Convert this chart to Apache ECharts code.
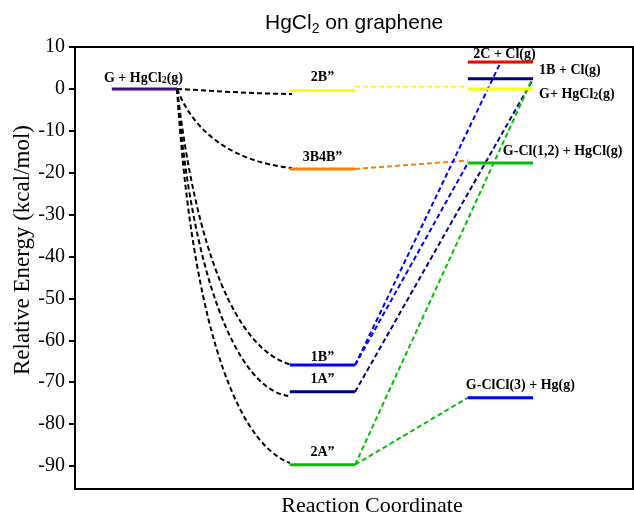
<!DOCTYPE html>
<html>
<head>
<meta charset="utf-8">
<script src="https://cdn.jsdelivr.net/npm/echarts@6/dist/echarts.min.js"></script>
<style>
  html, body { margin: 0; padding: 0; background: #fff; }
  #chart { width: 634px; height: 515px; }
</style>
</head>
<body>
<div id="chart"></div>
<script>
// reaction coordinate columns: [start, end] of each group of levels
const columns = [[6.6, 18.3], [38.5, 50.2], [70.4, 82.1]];

const levelNames = ['G + HgCl{s|2}(g)', '2B”', '3B4B”', '1B”', '1A”', '2A”',
  '2C + Cl(g)', '1B + Cl(g)', 'G+ HgCl{s|2}(g)', 'G-Cl(1,2) + HgCl(g)', 'G-ClCl(3) + Hg(g)'];
const levelColumn = [0, 1, 1, 1, 1, 1, 2, 2, 2, 2, 2];
const levelEnergy = [0, -0.4, -19.1, -65.9, -72.3, -89.7, 6.4, 2.4, 0, -17.7, -73.7];

// dashed black curves from the reactant level to the intermediates:
// start, two bezier control points, end
const curveTo2B = [[18.3, 0], [25.0, -0.5], [32.3, -1.2], [38.9, -1.2]];
const curveTo3B4B = [[18.3, 0], [21.5, -11.0], [28.7, -17.4], [38.9, -18.9]];
const curveTo1B = [[18.3, 0], [21.7, -38.4], [28.7, -62.3], [38.9, -65.9]];
const curveTo1A = [[18.3, 0], [20.8, -43.2], [28.7, -71.4], [38.2, -73.3]];
const curveTo2A = [[18.3, 0], [20.6, -50.4], [27.8, -83.8], [38.5, -89.3]];

// dashed coloured links from the intermediates to the products
const link2B = [[50.2, 0.5], [70.4, 0.5]];
const link3B4B = [[50.2, -19.1], [70.4, -17.1]];
const link1Bto2C = [[50.2, -65.9], [76.3, 6.4]];
const link1BtoGCl = [[50.2, -65.9], [70.4, -17.7]];
const link1Ato1B = [[50.2, -72.3], [82.1, 2.4]];
const link2AtoG = [[50.2, -89.7], [81.9, 2.2]];
const link2AtoGClCl = [[50.2, -89.7], [70.4, -73.7]];

const yTicks = [10, 0, -10, -20, -30, -40, -50, -60, -70, -80, -90];

// styles
const levelColors = ['#3f0a80', '#ffff00', '#ff7f00', '#0000ff', '#000080', '#00c000',
  '#ff0000', '#000080', '#ffff00', '#00c000', '#0000ff'];
const links = [
  [link2B, '#ffff00'], [link3B4B, '#ff7f00'], [link1Bto2C, '#0000ff'], [link1BtoGCl, '#0000ff'],
  [link1Ato1B, '#000080'], [link2AtoG, '#00c000'], [link2AtoGClCl, '#00c000']
];
// label anchor on the level (center / start / end), pixel offset and alignment
const labelPlace = [
  ['center', [-1, -11], 'center'], ['center', [0, -13], 'center'], ['center', [0, -12], 'center'],
  ['center', [0, -8], 'center'], ['center', [0, -12], 'center'], ['center', [0, -12], 'center'],
  ['center', [4, -8], 'center'], ['end', [6, -8], 'left'], ['end', [6, 5], 'left'],
  ['start', [35, -12], 'left'], ['start', [-2, -12], 'left']
];

const serif = '"Liberation Serif", "DejaVu Serif", serif';
const series = [];

// black curves as cubic beziers, positioned through the axes
let blackCurves = [curveTo2B, curveTo3B4B, curveTo1B, curveTo1A, curveTo2A];
series.push({
  type: 'custom', silent: true, z: 2,
  data: blackCurves.map(function (c) { return [].concat(c[0], c[1], c[2], c[3]); }),
  encode: { x: [0, 2, 4, 6], y: [1, 3, 5, 7] },
  renderItem: function (params, api) {
    let p = [0, 1, 2, 3].map(function (k) {
      return api.coord([api.value(2 * k), api.value(2 * k + 1)]);
    });
    return {
      type: 'bezierCurve',
      shape: {
        x1: p[0][0], y1: p[0][1], cpx1: p[1][0], cpy1: p[1][1],
        cpx2: p[2][0], cpy2: p[2][1], x2: p[3][0], y2: p[3][1]
      },
      style: { stroke: '#000', lineWidth: 2, lineDash: [5, 3], fill: null }
    };
  }
});

links.forEach(function (l) {
  series.push({
    type: 'line', data: l[0], symbol: 'none', z: 2, silent: true,
    lineStyle: { color: l[1], width: 2, type: [5, 3] }
  });
});

levelNames.forEach(function (name, i) {
  let col = columns[levelColumn[i]];
  series.push({
    type: 'line', data: [[col[0], levelEnergy[i]], [col[1], levelEnergy[i]]],
    symbol: 'none', z: 3, silent: true,
    lineStyle: { color: levelColors[i], width: 3 }
  });
});

series.push({
  type: 'scatter', symbolSize: 0, z: 4, silent: true,
  itemStyle: { opacity: 1 },
  data: levelNames.map(function (name, i) {
    let col = columns[levelColumn[i]];
    let p = labelPlace[i];
    let x = p[0] === 'center' ? (col[0] + col[1]) / 2 : (p[0] === 'start' ? col[0] : col[1]);
    return {
      value: [x, levelEnergy[i]],
      label: {
        show: true, position: p[1], align: p[2], verticalAlign: 'middle',
        formatter: name, color: '#000', fontFamily: serif, fontWeight: 'bold', fontSize: 14,
        rich: { s: { color: '#000', fontFamily: serif, fontWeight: 'bold', fontSize: 10, verticalAlign: 'bottom', padding: [6, 0, 0, 0] } }
      }
    };
  })
});

const chart = echarts.init(document.getElementById('chart'), null, { renderer: 'canvas' });
chart.setOption({
  animation: false,
  backgroundColor: '#fff',
  title: {
    text: 'HgCl{s|2} on graphene',
    left: 260, top: 6,
    textStyle: {
      fontFamily: '"Liberation Sans", Arial, sans-serif', fontWeight: 'normal', fontSize: 21, color: '#000',
      rich: { s: { fontFamily: '"Liberation Sans", Arial, sans-serif', fontSize: 14, padding: [11, 0, 0, 0] } }
    }
  },
  grid: {
    left: 75, right: 1, top: 47, bottom: 26, show: true, borderColor: '#000', borderWidth: 2,
    outerBoundsMode: 'none', containLabel: false
  },
  xAxis: {
    type: 'value', min: 0, max: 100,
    name: 'Reaction Coordinate', nameLocation: 'middle', nameGap: 6, nameMoveOverlap: false,
    nameTextStyle: { fontFamily: serif, fontSize: 22, color: '#000', padding: [0, 0, 0, 36] },
    axisLine: { show: true, onZero: false, lineStyle: { color: '#000', width: 2 } },
    axisTick: { show: false }, axisLabel: { show: false }, splitLine: { show: false }
  },
  yAxis: {
    type: 'value', min: -95.5, max: 10,
    name: 'Relative Energy (kcal/mol)', nameLocation: 'middle', nameGap: 41, nameMoveOverlap: false,
    nameTextStyle: { fontFamily: serif, fontSize: 23, color: '#000', padding: [0, 0, 0, 36] },
    axisLine: { show: true, lineStyle: { color: '#000', width: 2 } },
    axisTick: { show: true, length: 6, customValues: yTicks, lineStyle: { color: '#000', width: 2 } },
    axisLabel: { customValues: yTicks, fontFamily: serif, fontSize: 20, color: '#000', margin: 10 },
    splitLine: { show: false }
  },
  series: series
});
</script>
</body>
</html>
